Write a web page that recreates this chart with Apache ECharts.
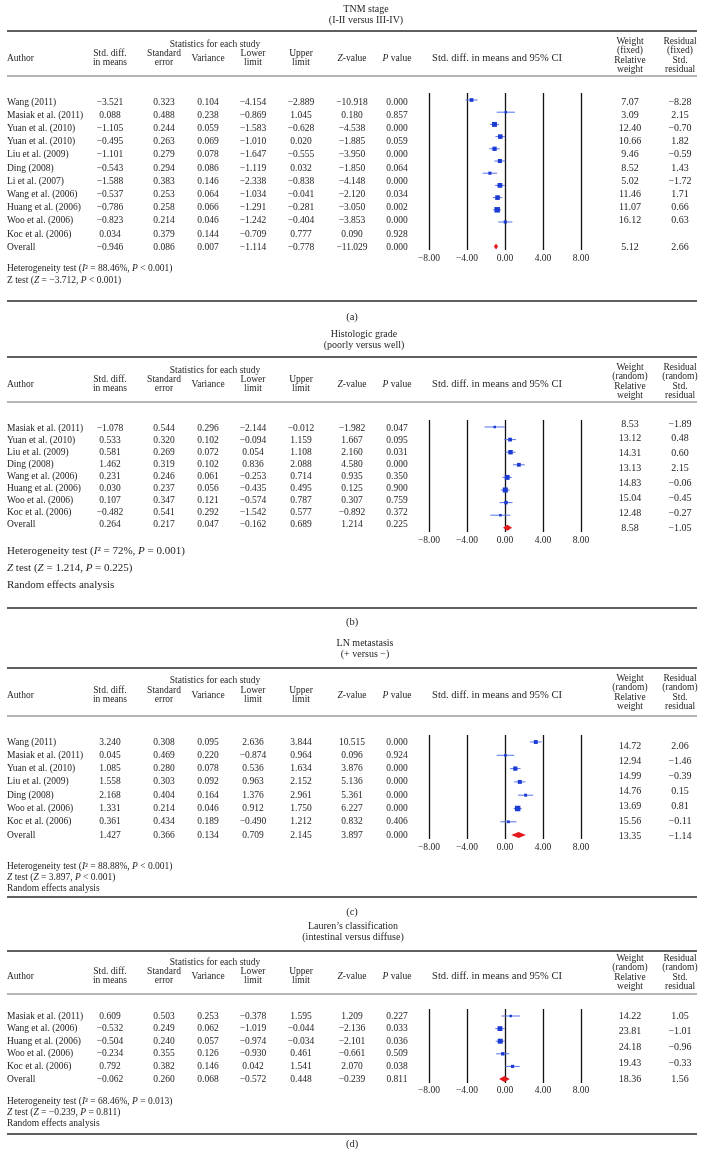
<!DOCTYPE html>
<html><head><meta charset="utf-8">
<script src="https://cdn.jsdelivr.net/npm/echarts@6/dist/echarts.min.js"></script>
<style>html,body{margin:0;padding:0;background:#fff}#c{width:704px;height:1151px}</style>
</head><body><div id="c"></div>
<script>
// ---------- DATA ----------
// (a) TNM stage
const authorsA = ['Wang (2011)','Masiak et al. (2011)','Yuan et al. (2010)','Yuan et al. (2010)','Liu et al. (2009)','Ding (2008)','Li et al. (2007)','Wang et al. (2006)','Huang et al. (2006)','Woo et al. (2006)','Koc et al. (2006)','Overall'];
const smdA   = [-3.521,0.088,-1.105,-0.495,-1.101,-0.543,-1.588,-0.537,-0.786,-0.823,0.034,-0.946];
const seA    = [0.323,0.488,0.244,0.263,0.279,0.294,0.383,0.253,0.258,0.214,0.379,0.086];
const varA   = [0.104,0.238,0.059,0.069,0.078,0.086,0.146,0.064,0.066,0.046,0.144,0.007];
const lowerA = [-4.154,-0.869,-1.583,-1.010,-1.647,-1.119,-2.338,-1.034,-1.291,-1.242,-0.709,-1.114];
const upperA = [-2.889,1.045,-0.628,0.020,-0.555,0.032,-0.838,-0.041,-0.281,-0.404,0.777,-0.778];
const zA     = [-10.918,0.180,-4.538,-1.885,-3.950,-1.850,-4.148,-2.120,-3.050,-3.853,0.090,-11.029];
const pA     = [0.000,0.857,0.000,0.059,0.000,0.064,0.000,0.034,0.002,0.000,0.928,0.000];
const weightA = [7.07,3.09,12.40,10.66,9.46,8.52,5.02,11.46,11.07,16.12,null,5.12];
const residA  = [-8.28,2.15,-0.70,1.82,-0.59,1.43,-1.72,1.71,0.66,0.63,null,2.66];
const footerA = ['Heterogeneity test ({i|I}² = 88.46%, {i|P} < 0.001)','Z test ({i|Z} = \u22123.712, {i|P} < 0.001)'];

// (b) Histologic grade
const authorsB = ['Masiak et al. (2011)','Yuan et al. (2010)','Liu et al. (2009)','Ding (2008)','Wang et al. (2006)','Huang et al. (2006)','Woo et al. (2006)','Koc et al. (2006)','Overall'];
const smdB   = [-1.078,0.533,0.581,1.462,0.231,0.030,0.107,-0.482,0.264];
const seB    = [0.544,0.320,0.269,0.319,0.246,0.237,0.347,0.541,0.217];
const varB   = [0.296,0.102,0.072,0.102,0.061,0.056,0.121,0.292,0.047];
const lowerB = [-2.144,-0.094,0.054,0.836,-0.253,-0.435,-0.574,-1.542,-0.162];
const upperB = [-0.012,1.159,1.108,2.088,0.714,0.495,0.787,0.577,0.689];
const zB     = [-1.982,1.667,2.160,4.580,0.935,0.125,0.307,-0.892,1.214];
const pB     = [0.047,0.095,0.031,0.000,0.350,0.900,0.759,0.372,0.225];
const weightB = [8.53,13.12,14.31,13.13,14.83,15.04,12.48,8.58];
const residB  = [-1.89,0.48,0.60,2.15,-0.06,-0.45,-0.27,-1.05];
const footerB = ['Heterogeneity test ({i|I}² = 72%, {i|P} = 0.001)','{i|Z} test ({i|Z} = 1.214, {i|P} = 0.225)','Random effects analysis'];

// (c) LN metastasis
const authorsC = ['Wang (2011)','Masiak et al. (2011)','Yuan et al. (2010)','Liu et al. (2009)','Ding (2008)','Woo et al. (2006)','Koc et al. (2006)','Overall'];
const smdC   = [3.240,0.045,1.085,1.558,2.168,1.331,0.361,1.427];
const seC    = [0.308,0.469,0.280,0.303,0.404,0.214,0.434,0.366];
const varC   = [0.095,0.220,0.078,0.092,0.164,0.046,0.189,0.134];
const lowerC = [2.636,-0.874,0.536,0.963,1.376,0.912,-0.490,0.709];
const upperC = [3.844,0.964,1.634,2.152,2.961,1.750,1.212,2.145];
const zC     = [10.515,0.096,3.876,5.136,5.361,6.227,0.832,3.897];
const pC     = [0.000,0.924,0.000,0.000,0.000,0.000,0.406,0.000];
const weightC = [14.72,12.94,14.99,14.76,13.69,15.56,13.35];
const residC  = [2.06,-1.46,-0.39,0.15,0.81,-0.11,-1.14];
const footerC = ['Heterogeneity test ({i|I}² = 88.88%, {i|P} < 0.001)','{i|Z} test ({i|Z} = 3.897, {i|P} < 0.001)','Random effects analysis'];

// (d) Lauren's classification
const authorsD = ['Masiak et al. (2011)','Wang et al. (2006)','Huang et al. (2006)','Woo et al. (2006)','Koc et al. (2006)','Overall'];
const smdD   = [0.609,-0.532,-0.504,-0.234,0.792,-0.062];
const seD    = [0.503,0.249,0.240,0.355,0.382,0.260];
const varD   = [0.253,0.062,0.057,0.126,0.146,0.068];
const lowerD = [-0.378,-1.019,-0.974,-0.930,0.042,-0.572];
const upperD = [1.595,-0.044,-0.034,0.461,1.541,0.448];
const zD     = [1.209,-2.136,-2.101,-0.661,2.070,-0.239];
const pD     = [0.227,0.033,0.036,0.509,0.038,0.811];
const weightD = [14.22,23.81,24.18,19.43,18.36];
const residD  = [1.05,-1.01,-0.96,-0.33,1.56];
const footerD = ['Heterogeneity test ({i|I}² = 68.46%, {i|P} = 0.013)','{i|Z} test ({i|Z} = \u22120.239, {i|P} = 0.811)','Random effects analysis'];

const xTicks = [-8,-4,0,4,8];

// ---------- LAYOUT ----------
const FONT = '"Liberation Serif","DejaVu Serif",serif';
const INK = '#1e1e1e';
const COL = {author:7, smd:110, se:164, vari:208, lo:253, up:301, z:352, p:397, forest:497, w:630, r:680};

const panels = [
 {title:['TNM stage','(I-II versus III-IV)'], wt:'(fixed)', label:'(a)',
  d:{a:authorsA,smd:smdA,se:seA,v:varA,lo:lowerA,up:upperA,z:zA,p:pA,w:weightA,r:residA,f:footerA},
  L:{tx:366,t1:9,t2:20,top:31,stats:44,h1:53,h2:62,hm:58,w:[41,50,60,69],hr:76,r0:102,rs:13.2,
     f0:100,fs:12.2,oi:12,lt:93,lb:250,ax:258,wMode:'rows',foot:[268,280],fsz:9.5,bot:301,lab:317}},
 {title:['Histologic grade','(poorly versus well)'], wt:'(random)', label:'(b)',
  d:{a:authorsB,smd:smdB,se:seB,v:varB,lo:lowerB,up:upperB,z:zB,p:pB,w:weightB,r:residB,f:footerB},
  L:{tx:364,t1:334,t2:345,top:357,stats:370,h1:379,h2:388,hm:384,w:[367,376,386,395],hr:402,r0:428,rs:12,
     f0:427,fs:12.6,oi:8,lt:420,lb:532,ax:540,wMode:'spread',ws:424,we:528,foot:[551,568,585],fsz:11,bot:608,lab:622}},
 {title:['LN metastasis','(+ versus \u2212)'], wt:'(random)', label:'(c)',
  d:{a:authorsC,smd:smdC,se:seC,v:varC,lo:lowerC,up:upperC,z:zC,p:pC,w:weightC,r:residC,f:footerC},
  L:{tx:365,t1:643,t2:654,top:668,stats:680,h1:690,h2:699,hm:695,w:[678,687,697,706],hr:716,r0:742,rs:13.3,
     f0:742,fs:13.3,oi:7,lt:735,lb:839,ax:847,wMode:'spread',ws:746,we:836,foot:[866,877,888],fsz:9.5,bot:897,lab:912}},
 {title:['Lauren\u2019s classification','(intestinal versus diffuse)'], wt:'(random)', label:'(d)',
  d:{a:authorsD,smd:smdD,se:seD,v:varD,lo:lowerD,up:upperD,z:zD,p:pD,w:weightD,r:residD,f:footerD},
  L:{tx:353,t1:926,t2:937,top:951,stats:962,h1:971,h2:980,hm:976,w:[958,967,977,986],hr:994,r0:1016,rs:12.6,
     f0:1016,fs:12.6,oi:5,lt:1009,lb:1083,ax:1090,wMode:'spread',ws:1016,we:1079,foot:[1101,1112,1123],fsz:9.5,bot:1134,lab:1144}}
];

// ---------- HELPERS ----------
function fmt(v, d){ if(v===null||v===undefined) return ''; return v.toFixed(d).replace('-', '\u2212'); }
const graphics = [];
function T(x, y, text, o){
  o = o || {};
  const s = o.size || 9.5;
  graphics.push({type:'text', x:x, y:y, silent:true, z:10,
    style:{text:text, fill:INK, fontSize:s, fontFamily:FONT,
      align:o.align||'center', verticalAlign:'middle',
      rich:{i:{fontStyle:'italic', fontSize:s, fontFamily:FONT, fill:INK}}}});
}
function HL(x1, x2, y, w, c){
  graphics.push({type:'line', silent:true, shape:{x1:x1,y1:y,x2:x2,y2:y}, style:{stroke:c, lineWidth:w}});
}

function renderForest(params, api){
  const est=api.value(0), lo=api.value(1), hi=api.value(2), row=api.value(3), sz=api.value(4), ov=api.value(5);
  const c=api.coord([est,row]), l=api.coord([lo,row]), h=api.coord([hi,row]);
  if(ov){
    const hh=3;
    return {type:'polygon', shape:{points:[[l[0]-0.5,c[1]],[c[0],c[1]-hh],[h[0]+0.5,c[1]],[c[0],c[1]+hh]]}, style:{fill:'#e3191c'}};
  }
  return {type:'group', children:[
    {type:'line', shape:{x1:l[0],y1:c[1],x2:h[0],y2:c[1]}, style:{stroke:'#5572ec', lineWidth:1}},
    {type:'rect', shape:{x:c[0]-sz/2, y:c[1]-sz/2, width:sz, height:sz}, style:{fill:'#1c3bd2'}}
  ]};
}

const grids=[], xAxes=[], yAxes=[], series=[];
panels.forEach(function(P, k){
  const L=P.L, D=P.d, n=D.a.length;
  T(L.tx, L.t1, P.title[0], {size:10});
  T(L.tx, L.t2, P.title[1], {size:10});
  HL(7, 697, L.top, 1.6, '#2a2a2a');
  T(215, L.stats, 'Statistics for each study');
  T(COL.author, L.hm, 'Author', {align:'left'});
  T(COL.smd, L.h1, 'Std. diff.'); T(COL.smd, L.h2, 'in means');
  T(COL.se, L.h1, 'Standard'); T(COL.se, L.h2, 'error');
  T(COL.vari, L.hm, 'Variance');
  T(COL.lo, L.h1, 'Lower'); T(COL.lo, L.h2, 'limit');
  T(COL.up, L.h1, 'Upper'); T(COL.up, L.h2, 'limit');
  T(COL.z, L.hm, '{i|Z}-value');
  T(COL.p, L.hm, '{i|P} value');
  T(COL.forest, L.hm, 'Std. diff. in means and 95% CI', {size:10.5});
  T(COL.w, L.w[0], 'Weight'); T(COL.w, L.w[1], P.wt); T(COL.w, L.w[2], 'Relative'); T(COL.w, L.w[3], 'weight');
  T(COL.r, L.w[0], 'Residual'); T(COL.r, L.w[1], P.wt); T(COL.r, L.w[2], 'Std.'); T(COL.r, L.w[3], 'residual');
  HL(7, 697, L.hr, 1, '#6a6a6a');
  for(let i=0;i<n;i++){
    const y = L.r0 + i*L.rs;
    T(COL.author, y, D.a[i], {align:'left'});
    T(COL.smd, y, fmt(D.smd[i],3));
    T(COL.se, y, fmt(D.se[i],3));
    T(COL.vari, y, fmt(D.v[i],3));
    T(COL.lo, y, fmt(D.lo[i],3));
    T(COL.up, y, fmt(D.up[i],3));
    T(COL.z, y, fmt(D.z[i],3));
    T(COL.p, y, fmt(D.p[i],3));
  }
  for(let i=0;i<D.w.length;i++){
    const y = L.wMode==='rows' ? L.r0 + i*L.rs : L.ws + i*(L.we-L.ws)/(D.w.length-1);
    T(COL.w, y, fmt(D.w[i],2), {size:10});
    T(COL.r, y, fmt(D.r[i],2), {size:10});
  }
  L.foot.forEach(function(fy, j){ if(D.f[j]) T(COL.author, fy, D.f[j], {align:'left', size:L.fsz}); });
  HL(7, 697, L.bot, 1.4, '#2a2a2a');
  T(352, L.lab, P.label, {size:10.5});

  grids.push({left:429, width:152, top:L.lt, height:L.lb-L.lt});
  xAxes.push({gridIndex:k, type:'value', min:-8, max:8, interval:4,
    axisLine:{show:false}, axisTick:{show:false},
    splitLine:{show:true, lineStyle:{color:'#111', width:1.3}},
    axisLabel:{show:true, margin:L.ax-L.lb-5, fontSize:9.5, fontFamily:FONT, color:INK, formatter:function(v){return fmt(v,2);}}});
  yAxes.push({gridIndex:k, type:'value', inverse:true, show:false,
    min:(L.lt-L.f0)/L.fs, max:(L.lb-L.f0)/L.fs, splitLine:{show:false}});
  const data=[];
  for(let i=0;i<n;i++){
    const ov = (i===n-1);
    const row = ov ? L.oi : i;
    const sz = Math.max(2.5, Math.min(5.5, 1.2/D.se[i]));
    data.push([D.smd[i], D.lo[i], D.up[i], row, sz, ov?1:0]);
  }
  series.push({type:'custom', xAxisIndex:k, yAxisIndex:k, renderItem:renderForest, data:data, silent:true, clip:false,
    encode:{x:[0,1,2], y:3}});
});

const chart = echarts.init(document.getElementById('c'), null, {renderer:'canvas'});
chart.setOption({
  animation:false, backgroundColor:'#fff',
  grid:grids, xAxis:xAxes, yAxis:yAxes, series:series, graphic:{elements:graphics}
});
</script></body></html>
